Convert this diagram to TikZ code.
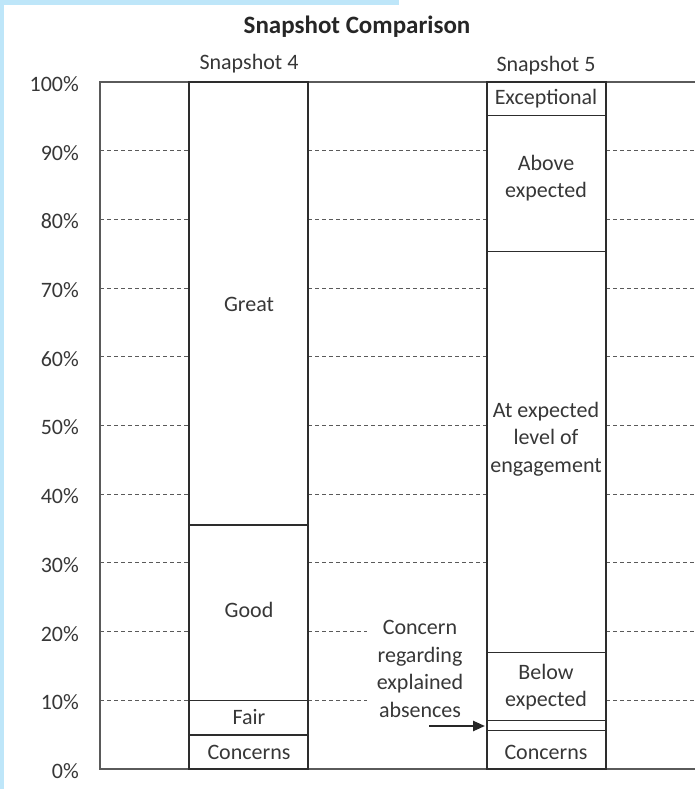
\documentclass[tikz,border=0pt]{standalone}
\usepackage{fontspec}
\setmainfont{Carlito}
\usetikzlibrary{arrows.meta}
\definecolor{edgeblue}{RGB}{190,230,249}
\definecolor{txtgray}{RGB}{55,55,55}
\definecolor{framegray}{RGB}{90,90,90}
\definecolor{bargray}{RGB}{45,45,45}
\tikzset{
  lbl/.style={inner sep=0pt, text=txtgray, font=\fontsize{22}{27.5}\selectfont, align=center},
  gridline/.style={draw=framegray, dash pattern=on 4pt off 3pt, line width=0.8pt},
  frame/.style={draw=framegray, line width=1.2pt},
  bar/.style={draw=bargray, line width=1.3pt},
}
\begin{document}
\begin{tikzpicture}[x=1pt,y=1pt]
\useasboundingbox (0,0) rectangle (695,789);
% light blue edge
\fill[edgeblue] (0,0) rectangle (4,789);
\fill[edgeblue] (0,784) rectangle (399,789);

% title and column heads
\node[lbl, font=\bfseries\fontsize{25}{30}\selectfont, text=black!85] (title) at (357,762) {Snapshot Comparison};
\node[lbl] (head4) at (249,725) {Snapshot 4};
\node[lbl] (head5) at (546,723) {Snapshot 5};

% dashed gridlines
\foreach \p in {1,...,9} {
  \draw[gridline] (100,{20+68.7*\p}) -- (189,{20+68.7*\p});
  \draw[gridline] (606,{20+68.7*\p}) -- (695,{20+68.7*\p});
}
\foreach \p in {3,...,9}
  \draw[gridline] (308,{20+68.7*\p}) -- (487,{20+68.7*\p});
\foreach \p in {1,2}
  \draw[gridline] (308,{20+68.7*\p}) -- (367,{20+68.7*\p});

% percent labels
\foreach \v [count=\i from 0] in {0,10,...,100}
  \node[lbl, anchor=east] (pct\i) at (79,{18+6.87*\v}) {\v\%};

% frame
\draw[frame] (695,707) -- (100,707) -- (100,20) -- (695,20);

% snapshot 4 bar
\draw[bar] (189,20) rectangle (308,707);
\draw[bar] (189,264) -- (308,264);
\draw[bar] (189,88.7) -- (308,88.7);
\draw[bar] (189,54) -- (308,54);

% snapshot 5 bar
\draw[bar] (487,20) rectangle (606,707);
\foreach \h in {673,537,136,68.5,58.5}
  \draw[bar, line width=1pt] (487,\h) -- (606,\h);

% band labels
\node[lbl] (great) at (249,485) {Great};
\node[lbl] (good) at (249,179) {Good};
\node[lbl] (fair) at (249,72) {Fair};
\node[lbl] (conc4) at (249,37) {Concerns};
\node[lbl] (excep) at (546,690) {Exceptional};
\node[lbl] (above) at (546,611) {Above\\expected};
\node[lbl] (atexp) at (546,350) {At expected\\level of\\engagement};
\node[lbl] (below) at (546,102) {Below\\expected};
\node[lbl] (conc5) at (546,37) {Concerns};

% note with arrow to the thin band
\node[lbl] (absent) at (420,120) {Concern\\regarding\\explained\\absences};
\coordinate (tail) at (429,63);
\coordinate (strip) at (485,63);
\draw[-{Triangle[length=12pt,width=10pt]}, line width=2.5pt, black!85] (tail) -- (strip);
\end{tikzpicture}
\end{document}
